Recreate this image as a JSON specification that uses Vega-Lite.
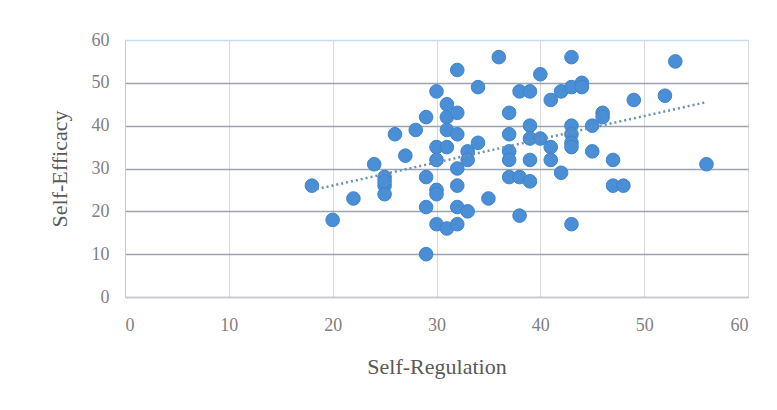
{
  "$schema": "https://vega.github.io/schema/vega-lite/v6.json",
  "width": 623,
  "height": 257,
  "autosize": {"type": "none"},
  "padding": {"left": 125, "top": 40, "right": 29, "bottom": 113},
  "background": "white",
  "config": {
    "view": {"stroke": null},
    "font": "Liberation Serif"
  },
  "data": {
    "values": [
      {"sr": 18, "se": 26}, {"sr": 20, "se": 18}, {"sr": 22, "se": 23}, {"sr": 24, "se": 31},
      {"sr": 25, "se": 28}, {"sr": 25, "se": 26}, {"sr": 25, "se": 24}, {"sr": 25, "se": 27},
      {"sr": 26, "se": 38}, {"sr": 27, "se": 33}, {"sr": 28, "se": 39}, {"sr": 29, "se": 42},
      {"sr": 29, "se": 28}, {"sr": 29, "se": 21}, {"sr": 29, "se": 10}, {"sr": 30, "se": 48},
      {"sr": 30, "se": 35}, {"sr": 30, "se": 32}, {"sr": 30, "se": 25}, {"sr": 30, "se": 24},
      {"sr": 30, "se": 17}, {"sr": 31, "se": 45}, {"sr": 31, "se": 42}, {"sr": 31, "se": 39},
      {"sr": 31, "se": 35}, {"sr": 31, "se": 16}, {"sr": 32, "se": 53}, {"sr": 32, "se": 43},
      {"sr": 32, "se": 38}, {"sr": 32, "se": 30}, {"sr": 32, "se": 26}, {"sr": 32, "se": 21},
      {"sr": 32, "se": 17}, {"sr": 33, "se": 34}, {"sr": 33, "se": 32}, {"sr": 33, "se": 20},
      {"sr": 34, "se": 49}, {"sr": 34, "se": 36}, {"sr": 35, "se": 23}, {"sr": 36, "se": 56},
      {"sr": 37, "se": 43}, {"sr": 37, "se": 38}, {"sr": 37, "se": 34}, {"sr": 37, "se": 32},
      {"sr": 37, "se": 28}, {"sr": 38, "se": 48}, {"sr": 38, "se": 28}, {"sr": 38, "se": 19},
      {"sr": 39, "se": 48}, {"sr": 39, "se": 40}, {"sr": 39, "se": 37}, {"sr": 39, "se": 32},
      {"sr": 39, "se": 27}, {"sr": 40, "se": 52}, {"sr": 40, "se": 37}, {"sr": 41, "se": 46},
      {"sr": 41, "se": 35}, {"sr": 41, "se": 32}, {"sr": 42, "se": 48}, {"sr": 42, "se": 29},
      {"sr": 43, "se": 56}, {"sr": 43, "se": 49}, {"sr": 43, "se": 40}, {"sr": 43, "se": 38},
      {"sr": 43, "se": 36}, {"sr": 43, "se": 35}, {"sr": 43, "se": 17}, {"sr": 44, "se": 50},
      {"sr": 44, "se": 49}, {"sr": 45, "se": 40}, {"sr": 45, "se": 34}, {"sr": 46, "se": 43},
      {"sr": 46, "se": 42}, {"sr": 47, "se": 32}, {"sr": 47, "se": 26}, {"sr": 48, "se": 26},
      {"sr": 49, "se": 46}, {"sr": 52, "se": 47}, {"sr": 53, "se": 55}, {"sr": 56, "se": 31}
    ]
  },
  "layer": [
    {
      "mark": {"type": "point", "filled": true, "size": 185, "color": "#4a8fd6", "opacity": 1, "stroke": "#3f83cc", "strokeWidth": 1},
      "encoding": {
        "x": {
          "field": "sr", "type": "quantitative",
          "scale": {"domain": [0, 60], "nice": false, "zero": false},
          "axis": {
            "title": "Self-Regulation", "values": [0, 10, 20, 30, 40, 50, 60],
            "grid": true, "gridColor": "#d9d9d9", "gridWidth": 1,
            "domain": true, "domainColor": "#c8c8c8", "ticks": false,
            "labelFont": "Liberation Serif", "labelFontSize": 18, "labelColor": "#7f7f7f", "labelPadding": 19,
            "titleFont": "Liberation Serif", "titleFontSize": 22, "titleFontWeight": "normal", "titleColor": "#595959", "titlePadding": 22
          }
        },
        "y": {
          "field": "se", "type": "quantitative",
          "scale": {"domain": [0, 60], "nice": false, "zero": false},
          "axis": {
            "title": "Self-Efficacy", "values": [0, 10, 20, 30, 40, 50, 60],
            "grid": true,
            "gridColor": {"condition": {"test": "datum.value === 60", "value": "#c5dcec"}, "value": "#9aa4ae"},
            "gridWidth": 1.3,
            "domain": true, "domainColor": "#c8c8c8", "ticks": false,
            "labelFont": "Liberation Serif", "labelFontSize": 18, "labelColor": "#7f7f7f", "labelPadding": 16,
            "titleFont": "Liberation Serif", "titleFontSize": 22, "titleFontWeight": "normal", "titleColor": "#595959", "titlePadding": 20
          }
        }
      }
    },
    {
      "transform": [{"regression": "se", "on": "sr", "extent": [18, 56]}],
      "mark": {"type": "line", "color": "#6b8fb5", "strokeWidth": 2.5, "strokeDash": [2, 3]},
      "encoding": {
        "x": {"field": "sr", "type": "quantitative"},
        "y": {"field": "se", "type": "quantitative"}
      }
    }
  ]
}
